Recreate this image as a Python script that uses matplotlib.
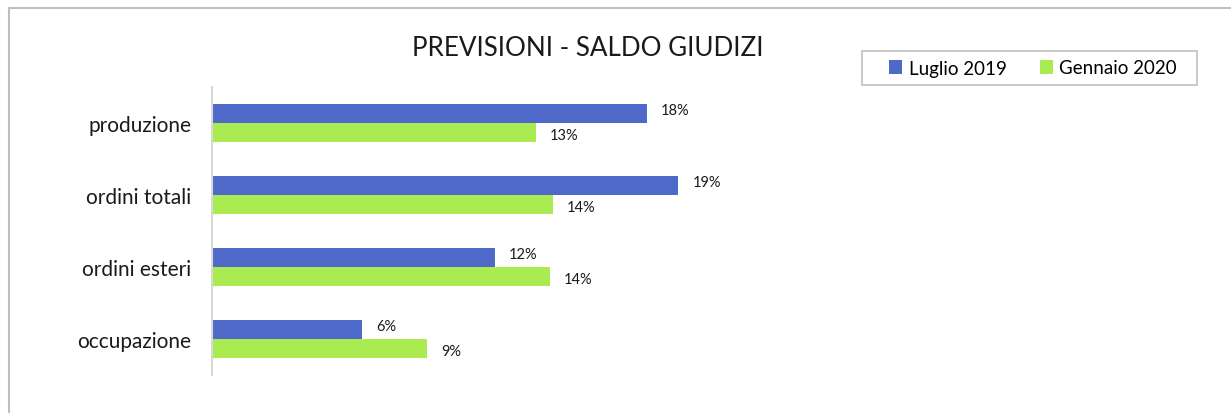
import matplotlib
matplotlib.use("Agg")
import matplotlib.pyplot as plt
from matplotlib.patches import Rectangle
from matplotlib.transforms import offset_copy
import numpy as np

plt.rcParams['font.family'] = ['Lato', 'DejaVu Sans']

categories = ["produzione", "ordini totali", "ordini esteri", "occupazione"]
luglio_2019 = [18.0, 19.3, 11.7, 6.2]
gennaio_2020 = [13.4, 14.1, 14.0, 8.9]
series_names = ["Luglio 2019", "Gennaio 2020"]
title = "PREVISIONI - SALDO GIUDIZI"

BLUE = "#4f69c8"
GREEN = "#aaeb52"

W, H = 1231, 414
fig = plt.figure(figsize=(W / 100, H / 100), dpi=100)

# outer chart frame (top and left visible, rest cropped)
fig.patches.append(Rectangle((9 / W, -0.1), 1.2, (H - 9) / H + 0.1,
                             transform=fig.transFigure, fill=False,
                             edgecolor="#bfbfbf", linewidth=1.5))

ax = fig.add_axes([212 / W, (H - 376) / H, 604 / W, 288 / H])
y = np.arange(len(categories))
bh = 0.264
ax.barh(y - bh / 2, luglio_2019, height=bh, color=BLUE, label=series_names[0])
ax.barh(y + bh / 2, gennaio_2020, height=bh, color=GREEN, label=series_names[1])

ax.set_xlim(0, 25)
ax.set_ylim(len(categories) - 0.5, -0.5)
ax.set_yticks(y)
ax.set_yticklabels(categories, fontsize=15, color="#1a1a1a")
ax.tick_params(axis="y", length=0, pad=15)
ax.set_xticks([])
for s in ["top", "right", "bottom"]:
    ax.spines[s].set_visible(False)
ax.spines["left"].set_color("#d9d9d9")
ax.spines["left"].set_linewidth(1.5)

for vals, off, dy in [(luglio_2019, -bh / 2, -3), (gennaio_2020, bh / 2, 2)]:
    tr = offset_copy(ax.transData, fig=fig, x=14, y=-dy, units="dots")
    for yi, v in zip(y, vals):
        ax.text(v, yi + off, f"{round(v):.0f}%", transform=tr, fontsize=10.5,
                va="center", ha="left", color="#1a1a1a")

fig.text(588 / W, 1 - 48 / H, title, fontsize=18.7, ha="center", va="center",
         color="#1a1a1a")

# legend frame drawn separately
fig.patches.append(Rectangle((862 / W, 1 - 86 / H), (1197 - 862) / W, 34 / H,
                             transform=fig.transFigure, fill=False,
                             edgecolor="#bfbfbf", linewidth=1.2))
leg = fig.legend(loc="center", bbox_to_anchor=(1033 / W, 1 - 69 / H),
                 ncol=2, frameon=False, fontsize=13.5,
                 handlelength=0.7, handleheight=0.7, handletextpad=0.35,
                 columnspacing=1.75, borderpad=0, borderaxespad=0)

fig.savefig("out.png", dpi=100)
